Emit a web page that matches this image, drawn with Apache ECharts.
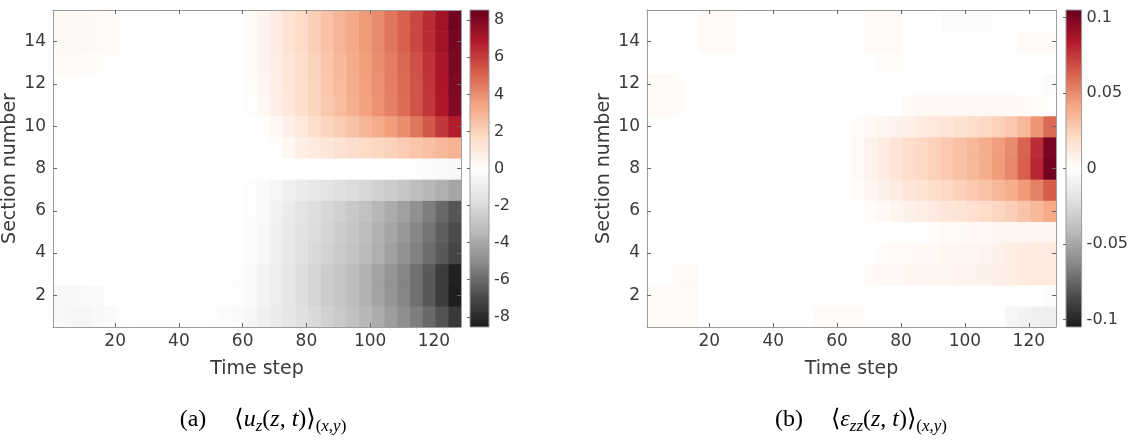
<!DOCTYPE html>
<html><head><meta charset="utf-8">
<script src="https://cdn.jsdelivr.net/npm/echarts@6/dist/echarts.min.js"></script>
<style>html,body{margin:0;padding:0;background:#fff}#c{width:1131px;height:441px}</style>
</head><body><div id="c"></div>
<script>
// ---- data ----
// time steps are grouped in blocks of four: first and last step of each block
const blockFirst = [1,5,9,13,17,21,25,29,33,37,41,45,49,53,57,61,65,69,73,77,81,85,89,93,97,101,105,109,113,117,121,125];
const blockLast  = [4,8,12,16,20,24,28,32,36,40,44,48,52,56,60,64,68,72,76,80,84,88,92,96,100,104,108,112,116,120,124,128];
const sections = [1,2,3,4,5,6,7,8,9,10,11,12,13,14,15];
const xTicks = [20,40,60,80,100,120];
const yTicks = [2,4,6,8,10,12,14];
const cbTicksA = [-8,-6,-4,-2,0,2,4,6,8];
const cbTicksB = [-0.1,-0.05,0,0.05,0.1];
const rangeA = [-8.55, 8.55];
const rangeB = [-0.105, 0.105];

// (a) <u_z(z,t)>, one array per section number, 32 time blocks each
const uzS01 = [-0.4,-0.5,-0.5,-0.4,-0.3,-0.1,0,0, 0,0,0,0,-0.1,-0.2,-0.3,-0.5, -0.8,-1.1,-1.4,-1.7,-2.0,-2.4,-2.7,-3.1, -3.5,-3.9,-4.4,-4.9,-5.4,-6.0,-6.7,-7.5];
const uzS02 = [-0.4,-0.4,-0.35,-0.3,0,0,0,0, 0,0,0,0,0,0,-0.1,-0.3, -0.6,-1.0,-1.4,-1.8,-2.2,-2.6,-2.9,-3.3, -3.7,-4.2,-4.7,-5.2,-5.8,-6.5,-7.4,-8.4];
const uzS03 = [0,0,0,0,0,0,0,0, 0,0,0,0,0,0,-0.1,-0.3, -0.6,-1.0,-1.4,-1.8,-2.2,-2.6,-2.9,-3.3, -3.7,-4.2,-4.7,-5.2,-5.8,-6.5,-7.4,-8.3];
const uzS04 = [0,0,0,0,0,0,0,0, 0,0,0,0,0,0,0,-0.2, -0.45,-0.85,-1.25,-1.65,-2.0,-2.3,-2.7,-3.0, -3.4,-3.8,-4.3,-4.8,-5.3,-5.9,-6.5,-7.1];
const uzS05 = [0,0,0,0,0,0,0,0, 0,0,0,0,0,0,0,-0.15, -0.4,-0.8,-1.2,-1.6,-1.9,-2.2,-2.6,-2.9, -3.3,-3.7,-4.1,-4.6,-5.1,-5.7,-6.3,-6.9];
const uzS06 = [0,0,0,0,0,0,0,0, 0,0,0,0,0,0,0,-0.1, -0.3,-0.7,-1.1,-1.5,-1.8,-2.1,-2.4,-2.8, -3.1,-3.5,-3.9,-4.3,-4.8,-5.4,-6.0,-6.6];
const uzS07 = [0,0,0,0,0,0,0,0, 0,0,0,0,0,0,0,-0.1, -0.25,-0.5,-0.8,-1.1,-1.3,-1.5,-1.7,-1.9, -2.1,-2.4,-2.6,-2.9,-3.2,-3.5,-3.8,-4.1];
const uzS08 = [0,0,0,0,0,0,0,0, 0,0,0,0,0,0,0,0, 0,0,0,0,0,0,0,0, 0,0,0,-0.05,-0.1,-0.2,-0.3,-0.4];
const uzS09 = [0,0,0,0,0,0,0,0, 0,0,0,0,0,0,0,0, 0,0.1,0.4,0.8,1.0,1.2,1.4,1.55, 1.7,1.85,2.0,2.2,2.4,2.6,2.8,3.0];
const uzS10 = [0,0,0,0,0,0,0,0, 0,0,0,0,0,0,0,0, 0.1,0.35,0.7,1.1,1.5,1.9,2.2,2.5, 2.9,3.2,3.6,4.0,4.6,5.3,6.1,6.8];
const uzS11 = [0,0,0,0,0,0,0,0, 0,0,0,0,0,0,0,0.1, 0.4,0.75,1.1,1.5,1.9,2.3,2.7,3.1, 3.5,3.9,4.3,4.8,5.4,6.1,6.9,7.9];
const uzS12 = [0.05,0.05,0,0,0,0,0,0, 0,0,0,0,0,0,0,0.15, 0.45,0.8,1.15,1.55,1.95,2.35,2.75,3.15, 3.55,3.95,4.35,4.85,5.45,6.15,6.95,8.0];
const uzS13 = [0.25,0.25,0.2,0.15,0.1,0.05,0,0, 0,0,0,0,0,0,0,0.2, 0.5,0.85,1.2,1.6,2.0,2.4,2.8,3.2, 3.6,4.0,4.4,4.9,5.5,6.2,7.0,8.1];
const uzS14 = [0.3,0.3,0.3,0.25,0.2,0.1,0.1,0.05, 0,0,0,0,0,0,0,0.2, 0.5,0.9,1.3,1.7,2.1,2.5,2.9,3.3, 3.7,4.1,4.6,5.1,5.7,6.4,7.2,8.2];
const uzS15 = [0.3,0.3,0.3,0.25,0.2,0.1,0.1,0.05, 0,0,0,0,0,0,0,0.2, 0.5,0.9,1.3,1.7,2.1,2.5,2.9,3.3, 3.7,4.1,4.6,5.1,5.7,6.4,7.2,8.3];

// (b) <eps_zz(z,t)>
const ezS01 = [0.003,0.003,0.003,0.003,0,0,0,0, 0,0,0,0,0,0.003,0.003,0.003, 0.003,0,0,0,0,0,0,0, 0,0,0,0,-0.006,-0.008,-0.010,-0.011];
const ezS02 = [0.003,0.003,0.003,0.003,0,0,0,0, 0,0,0,0,0,0,0,0, 0,0,0,0,0,0,0,0, 0,0,0,0,0,0,0,-0.002];
const ezS03 = [0,0,0.003,0.003,0,0,0,0, 0,0,0,0,0,0,0,0, 0,0.003,0.004,0.004,0.005,0.005,0.006,0.006, 0.007,0.007,0.008,0.009,0.010,0.011,0.012,0.012];
const ezS04 = [0,0,0,0,0,0,0,0, 0,0,0,0,0,0,0,0, 0,0,0.002,0.003,0.003,0.004,0.004,0.005, 0.005,0.006,0.007,0.008,0.010,0.011,0.012,0.012];
const ezS05 = [0,0,0,0,0,0,0,0, 0,0,0,0,0,0,0,0, 0,0,0,0,0,0,0.002,0.003, 0.003,0.004,0.004,0.005,0.005,0.006,0.006,0.006];
const ezS06 = [0,0,0,0,0,0,0,0, 0,0,0,0,0,0,0,0, 0,0.002,0.004,0.006,0.008,0.010,0.012,0.014, 0.016,0.018,0.020,0.023,0.026,0.030,0.035,0.040];
const ezS07 = [0,0,0,0,0,0,0,0, 0,0,0,0,0,0,0,0, 0.002,0.005,0.008,0.011,0.014,0.016,0.019,0.022, 0.025,0.028,0.031,0.035,0.039,0.045,0.053,0.064];
const ezS08 = [0,0,0,0,0,0,0,0, 0,0,0,0,0,0,0,0, 0.003,0.007,0.011,0.015,0.019,0.022,0.025,0.028, 0.031,0.035,0.039,0.045,0.051,0.063,0.080,0.102];
const ezS09 = [0,0,0,0,0,0,0,0, 0,0,0,0,0,0,0,0, 0.003,0.007,0.011,0.015,0.019,0.022,0.025,0.028, 0.031,0.035,0.039,0.044,0.050,0.062,0.078,0.100];
const ezS10 = [0,0,0,0,0,0,0,0, 0,0,0,0,0,0,0,0, 0.002,0.004,0.006,0.007,0.009,0.011,0.013,0.015, 0.017,0.019,0.022,0.025,0.029,0.035,0.047,0.060];
const ezS11 = [0.003,0.003,0.002,0,0,0,0,0, 0,0,0,0,0,0,0,0, 0,0,0,0,0.003,0.004,0.004,0.004, 0.004,0.004,0.004,0.004,0.004,0.003,0.002,0.001];
const ezS12 = [0.003,0.003,0.002,0,0,0,0,0, 0,0,0,0,0,0,0,0, 0,0,0,0,0,0,0,0, 0,0,0,0,0,0,0,-0.003];
const ezS13 = [0,0,0,0,0,0,0,0, 0,0,0,0,0,0,0,0, 0,0,0.002,0.002,0,0,0,0, 0,0,0,0,0,0,0,0];
const ezS14 = [0,0,0,0,0.003,0.003,0.003,0, 0,0,0,0,0,0,0,0, 0,0.003,0.003,0.003,0,0,0,0, 0,0,0,0,0,0.003,0.003,0.003];
const ezS15 = [0,0,0,0,0.003,0.003,0.003,0, 0,0,0,0,0,0,0,0, 0,0.003,0.003,0.003,0,0,0,-0.003, -0.003,-0.003,-0.003,0,0,0,0,0];

const uzRows = [uzS01,uzS02,uzS03,uzS04,uzS05,uzS06,uzS07,uzS08,uzS09,uzS10,uzS11,uzS12,uzS13,uzS14,uzS15];
const ezRows = [ezS01,ezS02,ezS03,ezS04,ezS05,ezS06,ezS07,ezS08,ezS09,ezS10,ezS11,ezS12,ezS13,ezS14,ezS15];

// ---- styles ----
const RDGY = ['#1a1a1a','#4d4d4d','#878787','#bababa','#e0e0e0','#ffffff','#fddbc7','#f4a582','#d6604d','#b2182b','#67001f'];
const FONT = "'DejaVu Sans', sans-serif";
const SERIF = "'Liberation Serif', 'DejaVu Serif', serif";
const TXT = '#3a3a3a';
const BOX = '#9c9c9c';

function cells(rows) {
  const out = [];
  rows.forEach((row, i) => {
    row.forEach((v, k) => {
      out.push([blockFirst[k] - 0.5, blockLast[k] + 0.5, sections[i], v]);
    });
  });
  return out;
}

function cellSeries(ai, rows) {
  return {
    type: 'custom', xAxisIndex: ai, yAxisIndex: ai, clip: true,
    encode: { x: [0, 1], y: 2 },
    data: cells(rows),
    renderItem(params, api) {
      const p0 = api.coord([api.value(0), api.value(2) + 0.5]);
      const p1 = api.coord([api.value(1), api.value(2) - 0.5]);
      return { type: 'rect', shape: { x: p0[0], y: p0[1], width: p1[0] - p0[0] + 0.6, height: p1[1] - p0[1] + 0.6 },
        style: { fill: api.visual('color') } };
    }
  };
}

function cbSeries(ai, range) {
  return {
    type: 'custom', xAxisIndex: ai, yAxisIndex: ai, silent: true,
    encode: { x: [0, 1], y: [2, 3] },
    data: [[0, 1, range[0], range[1]]],
    renderItem(params, api) {
      const p0 = api.coord([api.value(0), api.value(3)]);
      const p1 = api.coord([api.value(1), api.value(2)]);
      const stops = RDGY.map((c, j) => ({ offset: j / (RDGY.length - 1), color: c }));
      return { type: 'rect', shape: { x: p0[0], y: p0[1], width: p1[0] - p0[0], height: p1[1] - p0[1] },
        style: { fill: new echarts.graphic.LinearGradient(0, 1, 0, 0, stops), stroke: BOX, lineWidth: 1 } };
    }
  };
}

const lbl = (size, vals, margin) => ({ show: true, customValues: vals, color: TXT, fontSize: size, fontFamily: FONT, margin });
const tick = (vals) => ({ show: true, inside: true, length: 4, customValues: vals, lineStyle: { color: '#666' } });
const line = { show: true, lineStyle: { color: BOX, width: 1 } };

function xAxes(gi) {
  return [
    { gridIndex: gi, type: 'value', min: 0.5, max: 128.5, position: 'bottom', z: 5,
      axisLine: line, axisTick: tick(xTicks), axisLabel: lbl(17, xTicks, 6), splitLine: { show: false },
      name: 'Time step', nameLocation: 'middle', nameGap: 33,
      nameTextStyle: { color: TXT, fontSize: 19, fontFamily: FONT } },
    { gridIndex: gi, type: 'value', min: 0.5, max: 128.5, position: 'top', z: 5,
      axisLine: line, axisTick: tick(xTicks), axisLabel: { show: false }, splitLine: { show: false } }
  ];
}
function yAxes(gi) {
  return [
    { gridIndex: gi, type: 'value', min: 0.5, max: 15.5, position: 'left', z: 5,
      axisLine: line, axisTick: tick(yTicks), axisLabel: lbl(17, yTicks, 7), splitLine: { show: false },
      name: 'Section number', nameLocation: 'middle', nameGap: 33,
      nameTextStyle: { color: TXT, fontSize: 19, fontFamily: FONT } },
    { gridIndex: gi, type: 'value', min: 0.5, max: 15.5, position: 'right', z: 5,
      axisLine: line, axisTick: tick(yTicks), axisLabel: { show: false }, splitLine: { show: false } }
  ];
}

const chart = echarts.init(document.getElementById('c'), null, { renderer: 'canvas' });
const xa = xAxes(0), xb = xAxes(1), ya = yAxes(0), yb = yAxes(1);
const rich = {
  r:  { fontFamily: SERIF, fontSize: 24, lineHeight: 30, color: '#111' },
  g:  { fontFamily: SERIF, fontSize: 24, lineHeight: 30, width: 28 },
  i:  { fontFamily: SERIF, fontSize: 24, lineHeight: 30, fontStyle: 'italic', color: '#111' },
  sb: { fontFamily: SERIF, fontSize: 17, lineHeight: 17, fontStyle: 'italic', padding: [14, 0, 0, 0], color: '#111' },
  sr: { fontFamily: SERIF, fontSize: 17, lineHeight: 17, padding: [14, 0, 0, 0], color: '#111' }
};
const option = {
  animation: false,
  backgroundColor: '#ffffff',
  grid: [
    { left: 52, top: 10, width: 409, height: 317 },
    { left: 647, top: 10, width: 409, height: 317 },
    { left: 470, top: 10, width: 19, height: 317 },
    { left: 1066, top: 10, width: 17, height: 317 }
  ],
  xAxis: [
    xa[0], xb[0],
    { gridIndex: 2, type: 'value', min: 0, max: 1, show: false },
    { gridIndex: 3, type: 'value', min: 0, max: 1, show: false },
    xa[1], xb[1]
  ],
  yAxis: [
    ya[0], yb[0],
    { gridIndex: 2, type: 'value', min: rangeA[0], max: rangeA[1], position: 'right', z: 5,
      axisLine: { show: false }, axisTick: { show: true, inside: true, length: 3, customValues: cbTicksA, lineStyle: { color: '#666' } },
      axisLabel: lbl(16, cbTicksA, 5), splitLine: { show: false } },
    { gridIndex: 3, type: 'value', min: rangeB[0], max: rangeB[1], position: 'right', z: 5,
      axisLine: { show: false }, axisTick: { show: true, inside: true, length: 3, customValues: cbTicksB, lineStyle: { color: '#666' } },
      axisLabel: lbl(16, cbTicksB, 5), splitLine: { show: false } },
    ya[1], yb[1]
  ],
  visualMap: [
    { show: false, type: 'continuous', seriesIndex: 0, dimension: 3, min: rangeA[0], max: rangeA[1], inRange: { color: RDGY } },
    { show: false, type: 'continuous', seriesIndex: 1, dimension: 3, min: rangeB[0], max: rangeB[1], inRange: { color: RDGY } }
  ],
  series: [
    cellSeries(0, uzRows),
    cellSeries(1, ezRows),
    cbSeries(2, rangeA),
    cbSeries(3, rangeB)
  ],
  graphic: [
    { type: 'text', x: 263, y: 420, style: { text: '{r|(a)}{g| }{r|\u27E8}{i|u}{sb|z}{r|(}{i|z}{r|, }{i|t}{r|)\u27E9}{sr|(}{sb|x}{sr|,}{sb|y}{sr|)}', align: 'center', verticalAlign: 'middle', rich } },
    { type: 'text', x: 861, y: 420, style: { text: '{r|(b)}{g| }{r|\u27E8}{i|\u03B5}{sb|zz}{r|(}{i|z}{r|, }{i|t}{r|)\u27E9}{sr|(}{sb|x}{sr|,}{sb|y}{sr|)}', align: 'center', verticalAlign: 'middle', rich } }
  ]
};
chart.setOption(option);
</script>
</body></html>
